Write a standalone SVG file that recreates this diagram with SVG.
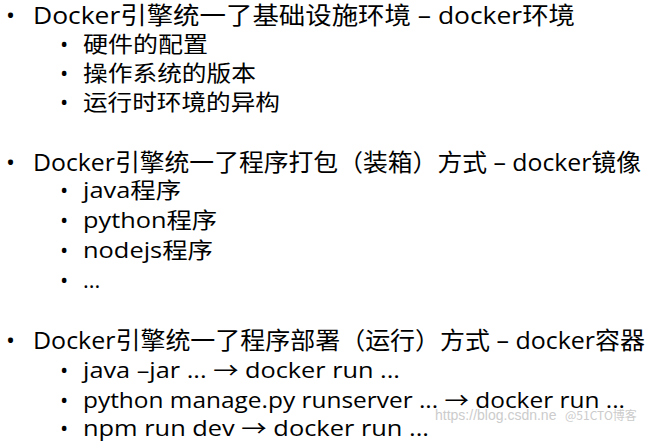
<svg xmlns="http://www.w3.org/2000/svg" width="662" height="442" viewBox="0 0 662 442">
<style>
.t{font-family:"Open Sans","Noto Sans CJK SC",sans-serif;fill:#000}
.a{font-size:24px}
.b{font-size:22px}
.w{font-family:"Liberation Sans",sans-serif;font-size:14px;fill:#ccc}
</style>
<rect width="662" height="442" fill="#fff"/>
<g class="t a">
<text x="6" y="24">•</text><text x="33" y="24" textLength="542" lengthAdjust="spacingAndGlyphs">Docker引擎统一了基础设施环境 – docker环境</text>
<text x="6" y="171">•</text><text x="33" y="171" textLength="608" lengthAdjust="spacingAndGlyphs">Docker引擎统一了程序打包（装箱）方式 – docker镜像</text>
<text x="6" y="349">•</text><text x="33" y="349" textLength="612" lengthAdjust="spacingAndGlyphs">Docker引擎统一了程序部署（运行）方式 – docker容器</text>
</g>
<g class="t b">
<text x="60" y="52">•</text><text x="83" y="52" textLength="125" lengthAdjust="spacingAndGlyphs">硬件的配置</text>
<text x="60" y="81">•</text><text x="83" y="81" textLength="173" lengthAdjust="spacingAndGlyphs">操作系统的版本</text>
<text x="60" y="110">•</text><text x="83" y="110" textLength="197" lengthAdjust="spacingAndGlyphs">运行时环境的异构</text>
<text x="60" y="198">•</text><text x="83" y="198" textLength="98" lengthAdjust="spacingAndGlyphs">java程序</text>
<text x="60" y="228">•</text><text x="83" y="228" textLength="134" lengthAdjust="spacingAndGlyphs">python程序</text>
<text x="60" y="258">•</text><text x="83" y="258" textLength="130" lengthAdjust="spacingAndGlyphs">nodejs程序</text>
<text x="60" y="288">•</text><text x="83" y="288">...</text>
<text x="60" y="378">•</text><text x="83" y="378" textLength="317" lengthAdjust="spacingAndGlyphs">java –jar ... → docker run ...</text>
<text x="60" y="408">•</text><text x="83" y="408" textLength="542" lengthAdjust="spacingAndGlyphs">python manage.py runserver ... →  docker run ...</text>
<text x="60" y="436">•</text><text x="83" y="436" textLength="346" lengthAdjust="spacingAndGlyphs">npm run dev → docker run ...</text>
</g>
<text class="w" x="435" y="420">https://blog.csdn.ne</text>
<text class="w" x="565" y="420" style="font-family:'Noto Sans CJK SC',sans-serif;font-size:12px">@51CTO博客</text>
</svg>
